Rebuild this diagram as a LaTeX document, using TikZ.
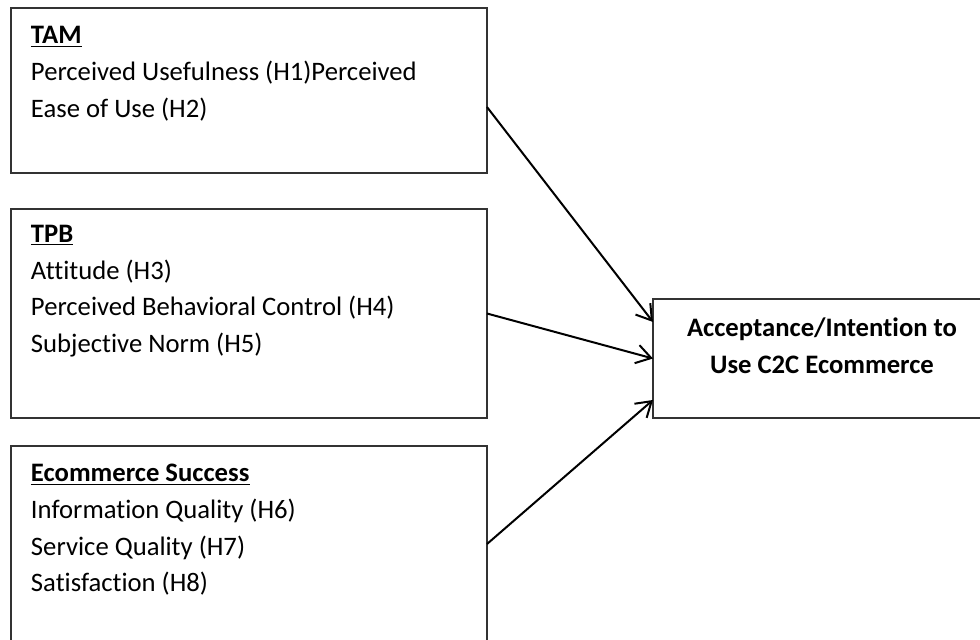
\documentclass[tikz,border=0pt]{standalone}
\usepackage{fontspec}
\setmainfont[Ligatures=NoCommon]{Carlito}
\usetikzlibrary{positioning,arrows.meta}

\begin{document}
\begin{tikzpicture}
   \tikzstyle{every node}=[inner sep=0pt, outer sep=0pt]
   \tikzstyle{box}=[draw=black!80, line width=0.8pt, rectangle, minimum width=357pt, anchor=north west]
   \tikzstyle{txt}=[font=\fontsize{20}{27.4}\selectfont, align=left, anchor=north west]
   \tikzstyle{arr}=[line width=1.5pt, -{Straight Barb[length=11pt,width=14pt]}]

\useasboundingbox (0,0) rectangle (735pt,-479.25pt);
\clip (0,0) rectangle (735pt,-479.25pt);

% left boxes
\node[box, minimum height=123.75pt] (tam) at (8.25pt,-6pt) {};
\node[box, minimum height=156.75pt, below=27pt of tam.south west, anchor=north west] (tpb) {};
\node[box, minimum height=147pt, below=21pt of tpb.south west, anchor=north west] (ecom) {};

\node[txt] (tamtxt) at ([xshift=15pt,yshift=-7.8pt]tam.north west)
    {\strut\underline{\textbf{TAM}}\\Perceived Usefulness (H1)Perceived\\Ease of Use (H2)};
\node[txt] (tpbtxt) at ([xshift=15pt,yshift=-6pt]tpb.north west)
    {\strut\underline{\textbf{TPB}}\\Attitude (H3)\\Perceived Behavioral Control (H4)\\Subjective Norm (H5)};
\node[txt] (ecomtxt) at ([xshift=15pt,yshift=-7.8pt]ecom.north west)
    {\strut\underline{\textbf{Ecommerce Success}}\\Information Quality (H6)\\Service Quality (H7)\\Satisfaction (H8)};

% result box
\node[box, minimum width=253.5pt, minimum height=89.25pt] (res) at (489.75pt,-224.25pt) {};
\node[txt, align=center, anchor=north, font=\fontsize{20}{27.4}\selectfont\bfseries] (restxt)
    at ([yshift=-9pt]res.north) {\strut Acceptance/Intention to\\Use C2C Ecommerce};

% arrows
\draw[arr] ([yshift=-12.4pt]tam.east) -- ([yshift=27.4pt]res.west);
\draw[arr] (tpb.east) -- (res.west);
\draw[arr] (ecom.east) -- ([yshift=-31.1pt]res.west);

\end{tikzpicture}
\end{document}
